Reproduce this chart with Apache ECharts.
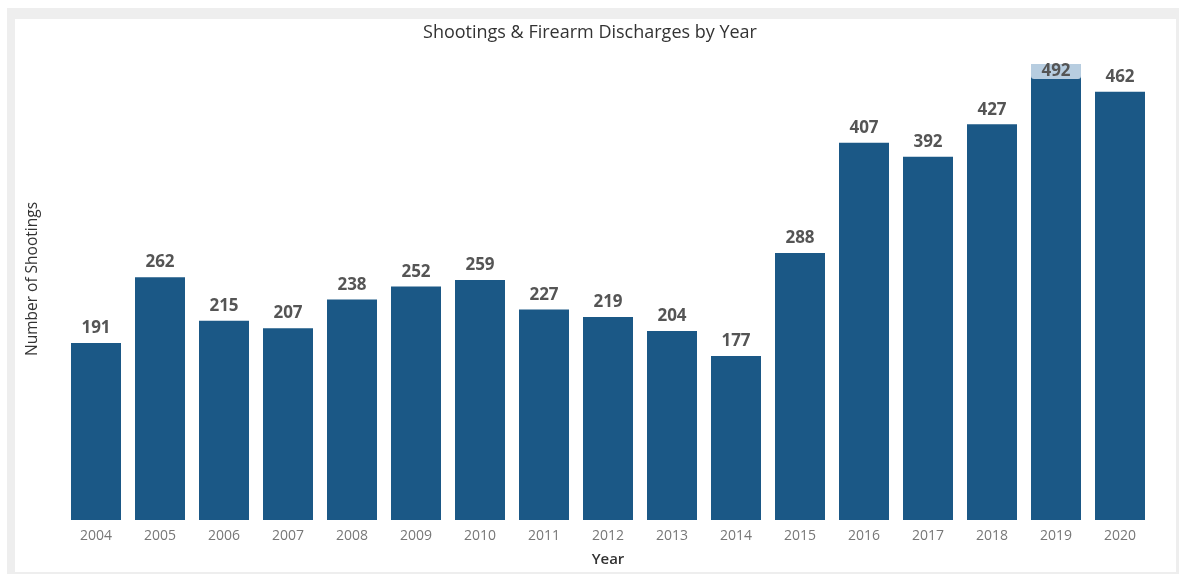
<!DOCTYPE html>
<html>
<head>
<meta charset="utf-8">
<script src="https://cdn.jsdelivr.net/npm/echarts@6/dist/echarts.min.js"></script>
<style>
    html, body { margin: 0; padding: 0; background: #ffffff; }
    #frame {
        position: absolute;
        left: 7px;
        top: 8px;
        width: 1161px;
        height: 553px;
        border-style: solid;
        border-color: #eeeeee;
        border-width: 11px 3px 2px 8px;
    }
    #chart { position: absolute; left: 0; top: 0; width: 1180px; height: 574px; }
</style>
</head>
<body>
<div id="frame"></div>
<div id="chart"></div>
<script>
const years = ["2004", "2005", "2006", "2007", "2008", "2009", "2010", "2011", "2012",
    "2013", "2014", "2015", "2016", "2017", "2018", "2019", "2020"];
const shootings = [191, 262, 215, 207, 238, 252, 259, 227, 219, 204, 177, 288, 407, 392, 427, 492, 462];
const highlightYear = "2019";

const colors = {
    bar: "#1b5886",
    barHighlight: "#b7cde0",
    label: "#555555",
    axis: "#777777",
    title: "#333333"
};

const font = "'Open Sans', 'Noto Sans', sans-serif";

const chart = echarts.init(document.getElementById("chart"));

chart.setOption({
    animation: false,
    title: {
        text: "Shootings & Firearm Discharges by Year",
        left: "center",
        top: 19,
        textStyle: {
            fontFamily: font,
            fontSize: 18,
            fontWeight: 500,
            color: colors.title
        }
    },
    grid: { left: 64, right: 28, top: 38, bottom: 54 },
    xAxis: {
        type: "category",
        data: years,
        name: "Year",
        nameLocation: "middle",
        nameGap: 32,
        nameTextStyle: {
            fontFamily: font,
            fontSize: 15,
            fontWeight: 600,
            color: colors.title
        },
        axisLine: { show: false },
        axisTick: { show: false },
        axisLabel: {
            fontFamily: font,
            fontSize: 14,
            color: colors.axis,
            margin: 9
        }
    },
    yAxis: {
        type: "value",
        min: 0,
        max: 520,
        name: "Number of Shootings",
        nameLocation: "middle",
        nameGap: 23,
        nameTextStyle: {
            fontFamily: font,
            fontSize: 15.5,
            color: colors.title
        },
        axisLine: { show: false },
        axisTick: { show: false },
        axisLabel: { show: false },
        splitLine: { show: false }
    },
    series: [
        {
            type: "bar",
            barWidth: 50,
            itemStyle: { color: colors.bar },
            label: {
                show: true,
                position: "top",
                distance: 6,
                fontFamily: font,
                fontSize: 17,
                fontWeight: 700,
                color: colors.label
            },
            data: shootings.map((value, i) => {
                if (years[i] !== highlightYear) {
                    return value;
                }
                return {
                    value,
                    label: {
                        position: "insideTop",
                        distance: 0,
                        width: 50,
                        height: 15,
                        lineHeight: 15,
                        align: "center",
                        backgroundColor: colors.barHighlight,
                        borderRadius: [0, 0, 3, 3]
                    }
                };
            })
        }
    ]
});
</script>
</body>
</html>
